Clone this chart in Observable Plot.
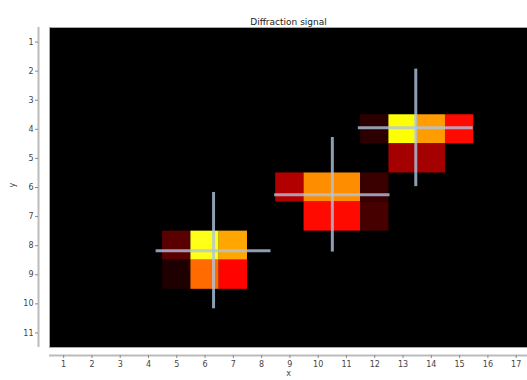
<!DOCTYPE html>
<html>
<head>
<meta charset="utf-8">
<script src="https://cdn.jsdelivr.net/npm/d3@7"></script>
<script src="https://cdn.jsdelivr.net/npm/@observablehq/plot@0.6"></script>
<style>
  html, body { margin: 0; padding: 0; background: #fff; }
  svg { display: block; }
</style>
</head>
<body>
<div id="chart"></div>
<script>
// Detector cells (column, row, normalised intensity on the "hot" colour map)
const cellCol = [5, 5, 6, 7, 6, 7,   9, 10, 11, 12, 10, 11, 12,   12, 13, 14, 15, 13, 14];
const cellRow = [8, 9, 8, 8, 9, 9,   6, 6, 6, 6, 7, 7, 7,         4, 4, 4, 4, 5, 5];
const cellVal = [0.12, 0.03, 0.77, 0.615, 0.525, 0.37,
                 0.25, 0.575, 0.575, 0.07, 0.38, 0.38, 0.09,
                 0.05, 0.75, 0.6, 0.38, 0.23, 0.23];

// Fitted spot centres (crosses) and their half-lengths
const spotX = [6.3, 10.5, 13.45];
const spotY = [8.17, 6.25, 3.95];
const armX = [2.03, 2.04, 2.03];
const armY = [2.0, 1.97, 2.02];

const xTicks = d3.range(1, 18);
const yTicks = d3.range(1, 12);
const titleText = "Diffraction signal";

const cells = cellCol.map((c, i) => ({col: c, row: cellRow[i], v: cellVal[i]}));
const spots = spotX.map((x, i) => ({x, y: spotY[i], ax: armX[i], ay: armY[i]}));

const font = "DejaVu Sans, sans-serif";

const chart = Plot.plot({
  width: 527,
  height: 380,
  marginLeft: 49,
  marginRight: 0,
  marginTop: 27,
  marginBottom: 33,
  style: {fontFamily: font, fontSize: "8px", background: "#fff", color: "#444"},
  x: {domain: [0.5, 17.4], ticks: xTicks, label: null},
  y: {domain: [0.5, 11.5], reverse: true, ticks: yTicks, label: null},
  color: {type: "linear", domain: [0, 0.365, 0.746, 1],
          range: ["#0b0000", "#ff0000", "#ffff00", "#ffffff"], clamp: true},
  marks: [
    Plot.frame({fill: "black", stroke: "#aaa", strokeWidth: 1}),
    Plot.rect(cells, {
      x1: d => d.col - 0.5, x2: d => d.col + 0.5,
      y1: d => d.row - 0.5, y2: d => d.row + 0.5,
      fill: "v", inset: 0
    }),
    Plot.ruleX(spots, {x: "x", y1: d => d.y - d.ay, y2: d => d.y + d.ay,
      stroke: "#b0c4de", strokeOpacity: 0.8, strokeWidth: 3}),
    Plot.ruleY(spots, {y: "y", x1: d => d.x - d.ax, x2: d => d.x + d.ax,
      stroke: "#b0c4de", strokeOpacity: 0.8, strokeWidth: 3}),
    // offset spines
    Plot.ruleX([0.5], {dx: -11, stroke: "#bbb", strokeWidth: 2}),
    Plot.ruleY([11.5], {dy: 8, stroke: "#bbb", strokeWidth: 2}),
    Plot.axisY({ticks: yTicks, tickSize: 3, dx: -11, tickPadding: 2, stroke: "#888", fill: "#444", label: null}),
    Plot.axisX({ticks: xTicks, tickSize: 3, dy: 8, tickPadding: 3, stroke: "#888", fill: "#444", label: null}),
    Plot.text([titleText], {frameAnchor: "top", dy: -9, text: d => d, fontSize: 9, fill: "#222"}),
    Plot.text(["y"], {frameAnchor: "left", dx: -37, text: d => d, rotate: -90, fontSize: 8, fill: "#444"}),
    Plot.text(["x"], {frameAnchor: "bottom", dy: 28, text: d => d, fontSize: 8, fill: "#444"})
  ]
});
document.getElementById("chart").appendChild(chart);
</script>
</body>
</html>
